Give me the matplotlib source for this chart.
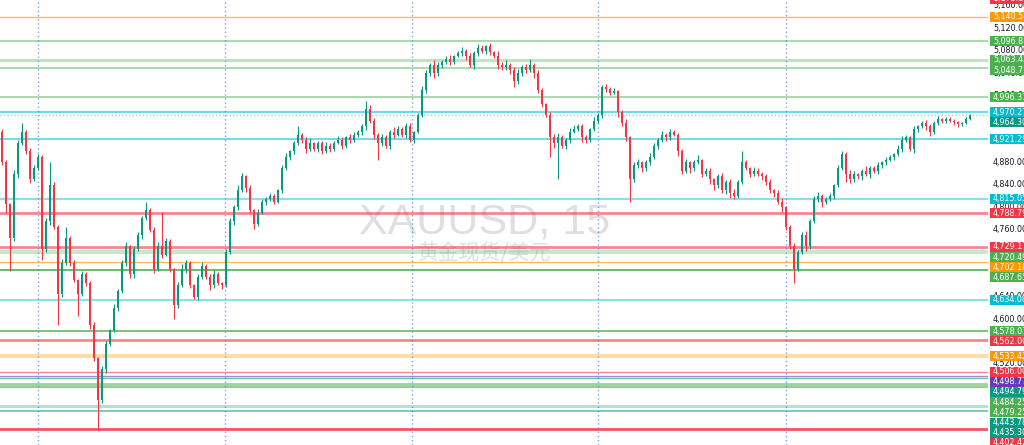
from __future__ import annotations

import matplotlib
import matplotlib.pyplot as plt
import numpy as np
from matplotlib.patches import Rectangle


matplotlib.use("Agg")

# XAUUSD 15m candles (prices in USD)
FIRST_OPEN = 4935.0
CLOSES = [
    4880, 4805, 4745, 4860, 4915, 4935, 4900, 4850, 4870, 4890,
    4725, 4775, 4840, 4765, 4645, 4700, 4745, 4700, 4670, 4645,
    4680, 4665, 4590, 4530, 4455, 4510, 4555, 4580, 4620, 4650,
    4700, 4730, 4680, 4725, 4750, 4780, 4795, 4760, 4690, 4730,
    4715, 4740, 4690, 4625, 4660, 4690, 4700, 4660, 4640, 4675,
    4695, 4675, 4660, 4680, 4665, 4660, 4720, 4775, 4800, 4830,
    4855, 4835, 4795, 4770, 4790, 4810, 4815, 4820, 4810, 4830,
    4870, 4890, 4900, 4915, 4930, 4920, 4905, 4915, 4905, 4915,
    4900, 4910, 4905, 4915, 4920, 4910, 4925, 4920, 4930, 4935,
    4945, 4975, 4955, 4930, 4915, 4925, 4910, 4935, 4930, 4940,
    4930, 4945, 4920, 4935, 4965, 5010, 5040, 5055, 5040, 5055,
    5060, 5065, 5060, 5070, 5075, 5080, 5070, 5055, 5075, 5085,
    5080, 5088, 5078, 5070, 5055, 5050, 5055, 5045, 5025, 5040,
    5050, 5045, 5055, 5040, 5010, 4985, 4965, 4925, 4915, 4925,
    4910, 4920, 4935, 4940, 4945, 4925, 4920, 4940, 4955, 4965,
    5015, 5012, 5005, 5008, 4970, 4950, 4925, 4850, 4875, 4880,
    4870, 4880, 4890, 4910, 4920, 4930, 4925, 4935, 4930, 4900,
    4865, 4880, 4870, 4880, 4885, 4860, 4865, 4850, 4840, 4855,
    4830, 4845, 4825, 4820, 4845, 4880, 4870, 4860, 4865, 4860,
    4855, 4845, 4830, 4825, 4810, 4800, 4765, 4730, 4690, 4720,
    4750, 4730, 4775, 4815, 4820, 4810, 4815, 4820, 4840, 4870,
    4895, 4860, 4850, 4860, 4855, 4865, 4860, 4870, 4865, 4875,
    4880, 4885, 4890, 4895, 4905, 4920, 4925, 4905, 4940, 4945,
    4950, 4945, 4935, 4950, 4958, 4955, 4958, 4955, 4952, 4948,
    4950, 4958, 4964.30,
]
UPPER_WICK = [
    5, 4, 3, 7, 5, 15, 4, 6, 5, 5,
    3, 6, 40, 5, 4, 7, 20, 3, 5, 2,
    6, 4, 3, 5, 2, 6, 5, 3, 7, 4,
    6, 8, 3, 5, 6, 4, 15, 3, 5, 7,
    62, 5, 3, 2, 6, 8, 5, 3, 2, 6,
    7, 3, 5, 8, 4, 2, 5, 6, 4, 9,
    6, 3, 4, 2, 7, 5, 3, 6, 4, 3,
    5, 7, 3, 4, 15, 3, 5, 8, 2, 4,
    3, 6, 5, 3, 7, 5, 2, 6, 5, 3,
    4, 15, 7, 5, 3, 6, 4, 3, 8, 5,
    3, 6, 5, 2, 4, 7, 6, 3, 8, 4,
    3, 5, 7, 2, 4, 6, 3, 5, 4, 7,
    6, 3, 5, 2, 9, 4, 8, 3, 5, 7,
    4, 6, 10, 3, 5, 4, 2, 5, 6, 8,
    5, 3, 6, 7, 4, 3, 5, 2, 6, 4,
    4, 6, 3, 5, 2, 4, 7, 3, 5, 6,
    3, 5, 7, 4, 3, 6, 2, 5, 4, 3,
    5, 7, 3, 4, 8, 2, 5, 6, 3, 4,
    6, 3, 5, 7, 3, 20, 4, 2, 7, 5,
    3, 4, 6, 2, 5, 7, 3, 4, 6, 3,
    5, 8, 4, 5, 7, 3, 4, 6, 2, 5,
    6, 3, 7, 5, 2, 4, 8, 3, 4, 6,
    3, 5, 4, 2, 6, 7, 4, 3, 5, 2,
    5, 6, 3, 4, 5, 2, 3, 4, 2, 3,
    2, 3, 3,
]
LOWER_WICK = [
    4, 15, 60, 5, 7, 3, 5, 6, 4, 3,
    20, 5, 7, 4, 55, 5, 3, 6, 4, 40,
    3, 6, 8, 5, 54, 5, 7, 3, 4, 6,
    3, 5, 6, 7, 4, 6, 3, 4, 8, 5,
    5, 3, 6, 25, 5, 3, 7, 5, 4, 6,
    4, 3, 8, 5, 4, 6, 3, 4, 6, 5,
    3, 7, 5, 9, 4, 3, 6, 4, 5, 2,
    5, 3, 6, 4, 3, 5, 8, 4, 5, 6,
    4, 3, 7, 5, 2, 6, 4, 5, 3, 4,
    5, 6, 4, 8, 30, 6, 4, 5, 7, 3,
    5, 6, 4, 5, 3, 4, 5, 6, 9, 5,
    6, 3, 5, 4, 2, 5, 6, 4, 8, 5,
    4, 6, 5, 3, 7, 5, 4, 6, 10, 4,
    6, 5, 3, 8, 5, 6, 4, 35, 9, 65,
    4, 6, 5, 3, 4, 8, 5, 4, 3, 4,
    5, 6, 4, 3, 9, 4, 6, 40, 5, 4,
    7, 5, 4, 3, 5, 4, 6, 5, 3, 8,
    5, 4, 9, 5, 3, 6, 5, 8, 10, 5,
    4, 6, 8, 5, 4, 3, 4, 6, 5, 4,
    6, 5, 4, 6, 5, 8, 6, 5, 25, 5,
    4, 8, 5, 3, 6, 9, 4, 3, 5, 3,
    4, 15, 6, 5, 4, 6, 5, 8, 4, 5,
    5, 4, 3, 5, 4, 6, 3, 5, 8, 5,
    4, 6, 8, 4, 3, 5, 4, 3, 5, 4,
    3, 2, 2,
]

# candle indices where the session separators sit
SESSION_BREAKS = [9, 55.75, 102.5, 149, 196]

# drawn horizontal levels and their label colour
LEVEL_PRICES = [
    5173.16, 5140.58, 5096.81, 5063.43, 5048.73, 4996.31, 4970.27, 4921.29,
    4815.05, 4788.79, 4729.17, 4720.49, 4702.18, 4687.65, 4634.08, 4578.07,
    4562.00, 4533.42, 4506.00, 4498.77, 4494.79, 4484.25, 4479.25, 4443.78,
    4435.30, 4402.42,
]
LEVEL_KINDS = [
    "red", "orange", "green", "green", "green", "green", "cyan", "cyan",
    "cyan", "red", "red", "green", "orange", "green", "cyan", "green",
    "red", "orange", "red", "purple", "teal", "green", "green", "teal",
    "teal", "red",
]
PRICE_TICKS = [
    4400, 4440, 4480, 4520, 4560, 4600, 4640, 4680, 4720, 4760, 4800,
    4840, 4880, 4920, 4960, 5000, 5040, 5080, 5120, 5160,
]

# line look per level (width, alpha)
LINE_WIDTHS = [
    1.0, 1.0, 1.1, 2.2, 1.1, 1.1, 1.6, 1.2,
    1.6, 2.0, 2.0, 3.0, 1.0, 1.3, 1.2, 1.3,
    2.0, 2.8, 1.0, 1.0, 1.0, 2.0, 1.5, 2.2,
    1.2, 2.0,
]
LINE_ALPHAS = [
    0.7, 0.65, 0.6, 0.35, 0.6, 0.6, 0.55, 0.65,
    0.45, 0.6, 0.6, 0.3, 0.65, 0.9, 0.55, 0.8,
    0.6, 0.35, 0.6, 0.6, 0.6, 0.55, 0.6, 0.3,
    0.6, 0.85,
]

COLORS = {
    "red": "#f23645",
    "orange": "#ff9800",
    "green": "#4caf50",
    "cyan": "#00bcd4",
    "teal": "#089981",
    "purple": "#673ab7",
}
UP = "#089981"
DOWN = "#f23645"

W, H = 1024, 445
PANE_W = 988
Y_MIN, Y_MAX = 4374.6, 5170.7


def draw_candles(ax) -> None:
    closes = np.array(CLOSES, dtype=float)
    opens = np.r_[FIRST_OPEN, closes[:-1]]
    x = np.arange(len(closes))
    colors = np.where(closes >= opens, UP, DOWN)
    top = np.maximum(opens, closes)
    bot = np.minimum(opens, closes)
    ax.vlines(x, bot - np.array(LOWER_WICK), top + np.array(UPPER_WICK),
              colors=colors, linewidth=0.8, zorder=4)
    ax.bar(x, np.maximum(top - bot, 1.0), bottom=bot, width=0.62,
           color=colors, linewidth=0, zorder=5)


def main() -> None:
    fig = plt.figure(figsize=(W / 100, H / 100), dpi=100, facecolor="white")
    ax = fig.add_axes([0, 0, PANE_W / W, 1])
    scale = fig.add_axes([PANE_W / W, 0, (W - PANE_W) / W, 1])

    n = len(CLOSES)
    ax.set_xlim(-0.5, (PANE_W - 2) / 4)
    ax.set_ylim(Y_MIN, Y_MAX)
    ax.axis("off")
    scale.set_xlim(0, 1)
    scale.set_ylim(Y_MIN, Y_MAX)
    scale.axis("off")

    # watermark
    ax.text(0.49, 0.476, "XAUUSD, 15", transform=ax.transAxes, ha="center",
            va="baseline", fontsize=31, color="#dedfe2",
            family="Liberation Sans", zorder=1)
    ax.text(0.49, 0.418, "黄金现货/美元", transform=ax.transAxes, ha="center",
            va="baseline", fontsize=15, color="#dedfe2",
            family=["Noto Sans CJK SC", "DejaVu Sans"], zorder=1)

    for xb in SESSION_BREAKS:
        ax.axvline(xb, color="#2962ff", alpha=0.6, linewidth=1.0,
                   linestyle=(0, (1, 2)), zorder=2)

    for p, kind, lw, a in zip(LEVEL_PRICES, LEVEL_KINDS, LINE_WIDTHS, LINE_ALPHAS):
        ax.axhline(p, color=COLORS[kind], linewidth=lw, alpha=a, zorder=3)

    last = CLOSES[-1]
    ax.axhline(last, color="#26c6da", linewidth=1.0, alpha=0.6,
               linestyle=(0, (1, 1.5)), zorder=3)

    draw_candles(ax)

    # price scale: plain ticks, then coloured level labels pushed apart
    for t in PRICE_TICKS:
        scale.text(0.14, t, f"{t:,.2f}", ha="left", va="center",
                   fontsize=5.8, color="#131722", zorder=1)

    labels = sorted(
        list(zip(LEVEL_PRICES, LEVEL_KINDS)) + [(last, "teal")],
        key=lambda item: -item[0],
    )
    px = (Y_MAX - Y_MIN) / H
    gap = 10.2 * px
    box_h = 10.0 * px
    prev = np.inf
    for p, kind in labels:
        y = min(p, prev - gap)
        prev = y
        scale.add_patch(Rectangle((0.06, y - box_h / 2), 2.0, box_h,
                                  facecolor=COLORS[kind], edgecolor="none",
                                  zorder=2, clip_on=False))
        scale.text(0.14, y, f"{p:,.2f}", ha="left", va="center",
                   fontsize=5.8, color="white", zorder=3)

    fig.savefig("out.png", dpi=100, facecolor="white")
    plt.close("all")


if __name__ == "__main__":
    main()
